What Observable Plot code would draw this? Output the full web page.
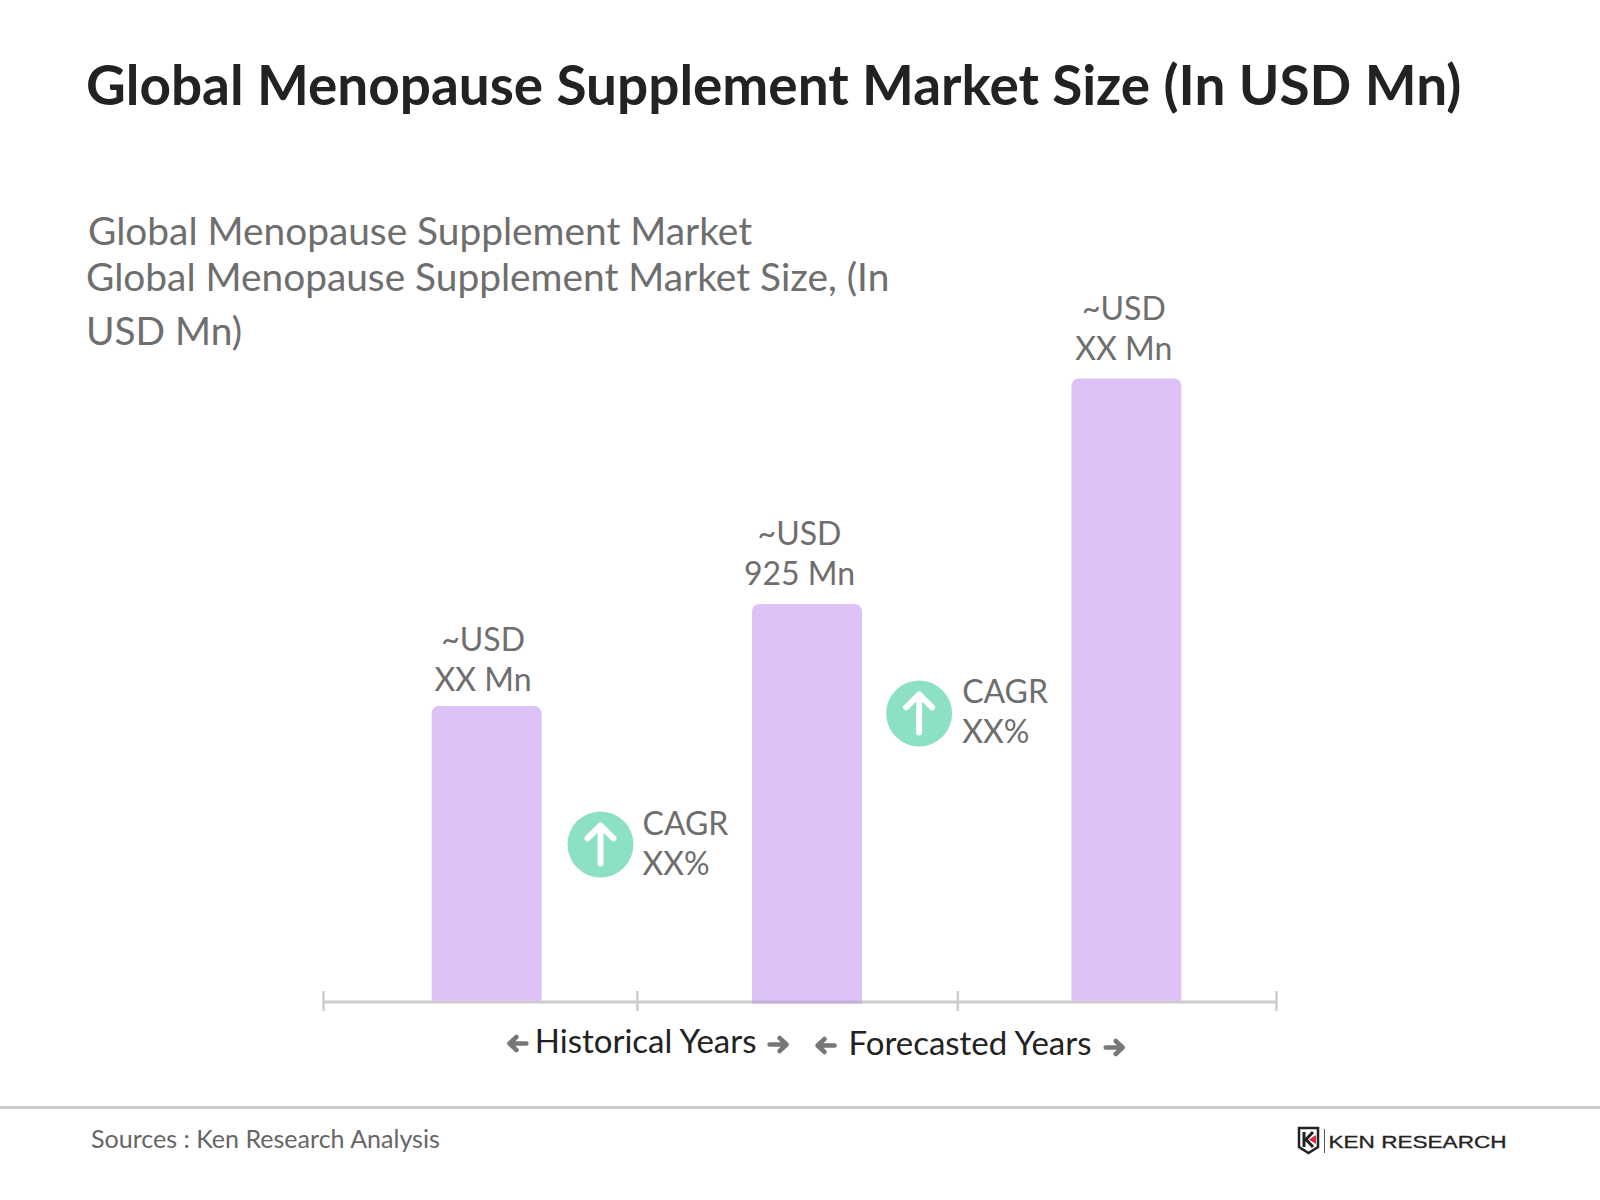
<!DOCTYPE html>
<html><head><meta charset="utf-8">
<script src="https://cdn.jsdelivr.net/npm/d3@7"></script>
<script src="https://cdn.jsdelivr.net/npm/@observablehq/plot@0.6"></script>
<style>
html,body{margin:0;padding:0;background:#fff}
#page{position:relative;width:1600px;height:1200px;overflow:hidden;font-family:Lato,sans-serif}
#page>div,#page>svg{position:absolute}
#chart{left:0;top:0;width:1600px;height:1200px}
#chart svg{display:block;background:transparent}
.title{left:86px;top:49px;font-size:54.9px;font-weight:700;color:#222;line-height:70px;white-space:nowrap}
.sub{color:#6e6e6e;font-size:38.85px;white-space:nowrap;line-height:46px}
.rule{left:0;top:1106px;width:1600px;height:3px;background:#ccc}
.src{left:91px;top:1122px;font-size:25.05px;color:#666;white-space:nowrap;line-height:32px}
</style></head><body>
<div id="page">
  <div id="chart"></div>
  <div class="title">Global Menopause Supplement Market Size (In USD Mn)</div>
  <div class="sub" style="left:88px;top:207px">Global Menopause Supplement Market</div>
  <div class="sub" style="left:86px;top:253px">Global Menopause Supplement Market Size, (In</div>
  <div class="sub" style="left:86px;top:307px">USD Mn)</div>
  <div class="rule"></div>
  <div class="src">Sources : Ken Research Analysis</div>
  <svg style="left:1295px;top:1124px" width="215" height="34" viewBox="0 0 215 34">
    <path d="M4 4H23V23L13.5 29L4 23Z" fill="none" stroke="#222" stroke-width="2.5"/>
    <path d="M9 8V23M18 8L11 15.5L18 23" fill="none" stroke="#222" stroke-width="3"/>
    <path d="M14 15.5L21 11V20Z" fill="#d8283c"/>
    <rect x="29" y="5" width="1" height="24" fill="#555"/>
    <text x="33.5" y="24" font-family="Liberation Sans" font-size="17" fill="#222" stroke="#222" stroke-width="0.3" textLength="178" lengthAdjust="spacingAndGlyphs">KEN RESEARCH</text>
  </svg>
</div>
<script>
const barNames = ["Historical start", "Base year", "Forecast end"];
const barPeriods = [0.515, 1.5236, 2.529];
const barValues = [687, 925, 1450];
const barTexts = ["~USD\nXX Mn", "~USD\n925 Mn", "~USD\nXX Mn"];
const timelineTicks = [0, 0.988, 1.997, 3];
const cagrTexts = ["CAGR\nXX%", "CAGR\nXX%"];
const cagrPeriods = [0.872, 1.875];
const cagrLevels = [366, 671];
const spanTexts = ["Historical Years", "Forecasted Years"];
const spanCentres = [1.014, 2.035];
const arrowPeriods = [0.612, 1.431, 1.582, 2.489];
const arrowRotations = [270, 90, 270, 90];
const barHalf = 0.173;

const bars = barNames.map((name, i) => ({name, t: barPeriods[i], value: barValues[i], label: barTexts[i]}));
const cagrs = cagrTexts.map((label, i) => ({label, t: cagrPeriods[i], level: cagrLevels[i]}));
const labelNudges = [[-4, -16], [-8, -19], [-3, -19]];
const cagrNudges = [[42, -2], [43, -3.5]];
const spanNudges = [41, 43];
const arrowNudges = [42, 43, 44, 46];
const font = "Lato";
const upArrow = {draw(c, l) {
  c.moveTo(0, 0); c.lineTo(0, -l);
  c.moveTo(-13, -l + 13); c.lineTo(0, -l); c.lineTo(13, -l + 13);
}};
const smallArrow = {draw(c, l) {
  c.moveTo(0, 0); c.lineTo(0, -l);
  c.moveTo(-6.5, -l + 7); c.lineTo(0, -l); c.lineTo(6.5, -l + 7);
}};
const plot = Plot.plot({
  width: 1600, height: 1200, margin: 0,
  x: {domain: [0, 3], range: [323, 1276], axis: null},
  y: {domain: [0, 1450], range: [1001, 378.6], axis: null},
  marks: [
    Plot.ruleY([0], {x1: 0, x2: 3, stroke: "#cccccc", strokeWidth: 3, dy: 0.5}),
    Plot.rectY(bars, {x1: d => d.t - barHalf, x2: d => d.t + barHalf, y1: 0, y2: "value", fill: "#dcc2f6", ry2: 7}),
    Plot.ruleY([0], {x1: barPeriods[1] - barHalf, x2: barPeriods[1] + barHalf, stroke: "#c3aedb", strokeWidth: 3, dy: 0.5}),
    Plot.ruleX(timelineTicks, {x: d => d, y1: -23.3, y2: 23.3, stroke: "#cccccc", strokeWidth: 2.5}),
    ...bars.map((b, i) => Plot.text([b], {x: "t", y: "value", text: "label", dx: labelNudges[i][0], dy: labelNudges[i][1],
      lineAnchor: "bottom", lineHeight: 1.25, fontFamily: font, fontSize: 32, fill: "#6e6e6e"})),
    Plot.dot(cagrs, {x: "t", y: "level", r: 33, fill: "#8ce0c6"}),
    Plot.vector(cagrs, {x: "t", y: "level", length: 38, anchor: "middle", shape: upArrow, stroke: "#fff", strokeWidth: 6, strokeLinecap: "round", strokeLinejoin: "round"}),
    ...cagrs.map((c, i) => Plot.text([c], {x: "t", y: "level", text: "label", dx: cagrNudges[i][0], dy: cagrNudges[i][1], textAnchor: "start", lineAnchor: "middle", lineHeight: 1.25, fontFamily: font, fontSize: 32, fill: "#6e6e6e"})),
    ...spanTexts.map((label, i) => Plot.text([label], {x: () => spanCentres[i], y: () => 0, text: d => d, dy: spanNudges[i], fontFamily: font, fontSize: 33, fill: "#222", lineAnchor: "middle"})),
    ...arrowPeriods.map((t, i) => Plot.vector([t], {x: d => d, y: () => 0, dy: arrowNudges[i], length: 17, rotate: arrowRotations[i], anchor: "middle", shape: smallArrow, stroke: "#777", strokeWidth: 4.5, strokeLinecap: "round", strokeLinejoin: "round"}))
  ]
});
document.getElementById("chart").append(plot);
</script>
</body></html>
